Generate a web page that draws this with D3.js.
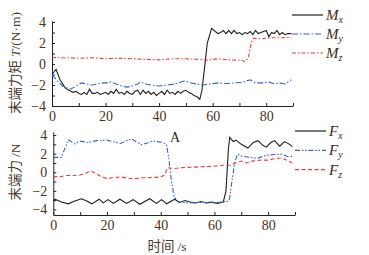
<!DOCTYPE html>
<html>
<head>
<meta charset="utf-8">
<script src="https://cdn.jsdelivr.net/npm/d3@7"></script>
<style>
  body { margin: 0; background: #fff; }
  svg { display: block; }
  .axis path, .axis line { stroke: #222; stroke-width: 1; }
  .axis text { font-family: "Liberation Serif", "DejaVu Serif", serif; font-size: 14px; fill: #4e3218; }
</style>
</head>
<body>
<script>
// top panel: end moment (N·m)
const mx = [[0,-1.0],[1.5,-0.5],[3,-1.5],[5,-2.3],[7,-2.6],[8,-2.7],[9,-2.6],[10,-2.8],[11,-2.9],[12,-2.7],[13,-2.9],[14,-2.4],[15,-2.8],[16,-2.8],[17,-2.7],[18,-2.9],[19,-2.8],[20,-2.7],[21,-2.9],[22,-2.6],[23,-2.8],[24,-2.4],[25,-2.8],[26,-2.7],[27,-2.9],[28,-2.6],[29,-2.8],[30,-2.9],[31,-2.6],[32,-2.5],[33,-2.9],[34,-2.5],[35,-2.8],[36,-2.6],[37,-2.9],[38,-2.7],[39,-3.0],[40,-2.8],[41,-2.6],[42,-2.9],[43,-2.5],[44,-2.8],[45,-2.7],[46,-2.9],[47,-2.6],[48,-2.8],[49,-2.6],[50,-2.5],[51,-2.7],[52,-2.8],[53,-3.0],[54,-3.1],[55.2,-3.35],[56,-2.5],[57,-0.3],[58,2.0],[59.6,3.4],[61,3.1],[62,2.9],[63,3.0],[64,3.2],[65,2.9],[66,3.2],[67,2.9],[68,3.2],[69,2.9],[70,3.0],[71,2.8],[72,3.0],[73,2.9],[74,3.1],[75,2.8],[76,3.2],[77,2.9],[78,3.0],[79,3.1],[80,3.2],[81,2.6],[82,3.0],[83,2.9],[84,3.2],[85,2.8],[86,3.0],[87,2.8],[88,2.9],[89.4,2.9]];
const my = [[0,-1.0],[2,-1.6],[4,-2.1],[6,-2.3],[7,-2.4],[9,-2.1],[11,-1.8],[13,-1.9],[15,-2.0],[17,-1.9],[19,-1.8],[21,-1.8],[22,-1.7],[24,-1.9],[26,-2.1],[28,-2.2],[30,-2.1],[32,-1.9],[33,-1.7],[35,-1.9],[37,-2.0],[40,-2.1],[43,-2.0],[46,-1.9],[49.6,-1.6],[52,-1.8],[55.8,-2.0],[58.9,-1.9],[62,-1.8],[65,-1.85],[68,-1.8],[71,-1.75],[74,-1.5],[76,-1.8],[79,-1.8],[81,-1.7],[83,-1.9],[85,-1.8],[87,-1.9],[89.4,-1.5]];
const mz = [[0,0.62],[5,0.58],[10,0.55],[15,0.6],[20,0.5],[25,0.55],[30,0.5],[35,0.45],[40,0.4],[45,0.5],[50,0.5],[55,0.45],[57.3,0.35],[62,0.5],[66,0.4],[70.8,0.35],[72,0.2],[73.3,0.6],[74.5,2.1],[75.2,2.45],[78,2.4],[82,2.5],[86,2.5],[89.4,2.55]];

// bottom panel: end force (N)
const fx = [[0,-3.1],[0.6,-2.9],[3,-3.2],[5.6,-3.4],[8,-3.1],[10.5,-2.85],[12.5,-3.1],[14.3,-3.4],[17.1,-2.9],[18.6,-3.3],[20.4,-2.95],[22.3,-3.35],[24.8,-2.9],[27.3,-3.35],[29.7,-2.95],[32.2,-3.45],[35.9,-2.85],[38.4,-3.35],[40.3,-2.95],[42.2,-3.4],[45.2,-2.9],[47,-3.25],[49,-3.05],[51,-3.2],[53,-3.3],[55,-3.15],[57,-3.3],[59,-3.2],[61,-3.35],[63.3,-3.2],[64.3,-2.0],[65.2,2.5],[65.7,3.75],[67,3.3],[68,3.45],[70,3.0],[72.5,2.6],[74.5,3.2],[76.2,3.4],[78,2.9],[79.3,2.7],[81,3.2],[82.4,3.4],[84.3,2.8],[86.1,3.3],[88,3.0],[89,2.75]];
const fy = [[0,1.6],[3,1.6],[5.6,3.5],[8,3.05],[10,3.35],[13,3.2],[16,3.4],[20,3.45],[25,3.1],[29,3.6],[33,2.95],[37,3.35],[41,3.2],[42.2,2.9],[43,1.5],[44,-1.0],[45,-2.6],[46.5,-3.2],[50,-3.3],[55,-3.25],[60,-3.3],[63,-3.2],[65.5,-3.1],[66.5,-1.0],[67.5,1.0],[68.6,1.95],[70,1.75],[73,1.6],[76,1.5],[79,1.8],[82,1.9],[85,1.95],[87,1.7],[89,1.7]];
const fz = [[0,-0.5],[3,-0.45],[5,-0.35],[8,-0.35],[10,-0.3],[12,-0.1],[14,0.13],[16,-0.15],[18,-0.5],[20,-0.7],[22,-0.6],[25,-0.5],[28,-0.65],[30,-0.7],[33,-0.6],[35,-0.6],[38,-0.55],[40,-0.5],[41.5,-0.3],[42.5,0.5],[45,0.4],[48,0.5],[52,0.55],[56,0.6],[60,0.65],[63,0.75],[66,0.75],[68,1.0],[70,1.2],[72,1.0],[74,1.2],[77,1.3],[80,1.3],[83,1.5],[85,1.5],[87,1.3],[89,1.0]];

const xTicks = [0,10,20,30,40,50,60,70,80,90];
const yTicks = [-4,-3,-2,-1,0,1,2,3,4];

const W = 369, H = 255;
const svg = d3.select("body").append("svg")
  .attr("width", W)
  .attr("height", H);

const styles = {
  solid: {color: "#1e1e1e", dash: null},
  blue:  {color: "#3a5fcd", dash: "6,2,1.5,2"},
  red:   {color: "#f03a3a", dash: "4,2,1.5,2"},
  blue2: {color: "#3a5fcd", dash: "5,2,1.5,1.5,1.5,2"},
  red2:  {color: "#f03a3a", dash: "4,2.5"}
};

function drawPanel(cfg) {
  var x = d3.scaleLinear().domain([0, 90]).range(cfg.xr);
  var y = d3.scaleLinear().domain(cfg.yd).range(cfg.yr);

  var xAxis = d3.axisBottom(x)
    .tickValues(xTicks)
    .tickSizeInner(-3).tickSizeOuter(0).tickPadding(5)
    .tickFormat(function(d) { return d % 20 === 0 ? d : ""; });
  var yAxis = d3.axisLeft(y)
    .tickValues(yTicks)
    .tickSizeInner(-3).tickSizeOuter(0).tickPadding(6)
    .tickFormat(function(d) { return d % 2 === 0 ? d3.format("")(d) : ""; });

  svg.append("g")
    .attr("class", "axis x")
    .attr("transform", "translate(0," + cfg.yr[0] + ")")
    .call(xAxis);
  svg.append("g")
    .attr("class", "axis y")
    .attr("transform", "translate(" + cfg.xr[0] + ",0)")
    .call(yAxis);

  var line = d3.line()
    .x(function(d) { return x(d[0]); })
    .y(function(d) { return y(d[1]); });

  cfg.series.forEach(function(s, i) {
    var st = styles[s.style];
    svg.append("path")
      .datum(s.data)
      .attr("fill", "none")
      .attr("stroke", st.color)
      .attr("stroke-width", 1.1)
      .attr("stroke-dasharray", st.dash)
      .attr("d", line);

    // legend
    var ly = cfg.legendY + i * cfg.legendGap;
    svg.append("line")
      .attr("x1", cfg.legendX).attr("x2", cfg.legendX + 31)
      .attr("y1", ly).attr("y2", ly)
      .attr("stroke", st.color)
      .attr("stroke-width", 1.2)
      .attr("stroke-dasharray", st.dash);
    var t = svg.append("text")
      .attr("x", cfg.legendX + 34).attr("y", ly + 5)
      .attr("font-family", "Liberation Serif, serif")
      .attr("font-size", 15)
      .attr("font-style", "italic")
      .attr("fill", "#3b2a1a");
    t.append("tspan").text(s.name);
    t.append("tspan").attr("font-size", 10).attr("dy", 3).text(s.sub);
  });

  var lab = svg.append("text")
    .attr("transform", "translate(" + cfg.labelX + "," + cfg.labelY + ") rotate(-90)")
    .attr("text-anchor", "middle")
    .attr("font-family", "Noto Sans CJK SC, sans-serif")
    .attr("font-size", 13.5)
    .attr("fill", "#4a3a2a");
  cfg.label(lab);
}

drawPanel({
  xr: [52, 293], yd: [-4, 4.1], yr: [106, 21],
  legendX: 292, legendY: 15, legendGap: 19,
  labelX: 20, labelY: 63,
  series: [
    {data: mx, style: "solid", name: "M", sub: "x"},
    {data: my, style: "blue", name: "M", sub: "y"},
    {data: mz, style: "red", name: "M", sub: "z"}
  ],
  label: function(t) {
    t.append("tspan").text("末端力矩 ");
    t.append("tspan").attr("font-family", "Liberation Serif, serif").attr("font-style", "italic").text("T");
    t.append("tspan").attr("font-family", "Liberation Serif, serif").text("/(N·m)");
  }
});

drawPanel({
  xr: [53.3, 295], yd: [-4.6, 4.35], yr: [215, 131.8],
  legendX: 295, legendY: 131, legendGap: 19.3,
  labelX: 20, labelY: 172,
  series: [
    {data: fx, style: "solid", name: "F", sub: "x"},
    {data: fy, style: "blue2", name: "F", sub: "y"},
    {data: fz, style: "red2", name: "F", sub: "z"}
  ],
  label: function(t) {
    t.append("tspan").text("末端力 ");
    t.append("tspan").attr("font-family", "Liberation Serif, serif").text("/N");
  }
});

svg.append("text")
  .attr("x", 175).attr("y", 142)
  .attr("text-anchor", "middle")
  .attr("font-family", "Liberation Serif, serif")
  .attr("font-size", 14)
  .attr("fill", "#2a2a2a")
  .text("A");

var xl = svg.append("text")
  .attr("x", 167).attr("y", 251)
  .attr("text-anchor", "middle")
  .attr("font-size", 13.5)
  .attr("fill", "#4a3a2a");
xl.append("tspan").attr("font-family", "Noto Sans CJK SC, sans-serif").text("时间 ");
xl.append("tspan").attr("font-family", "Liberation Serif, serif").text("/s");
</script>
</body>
</html>
